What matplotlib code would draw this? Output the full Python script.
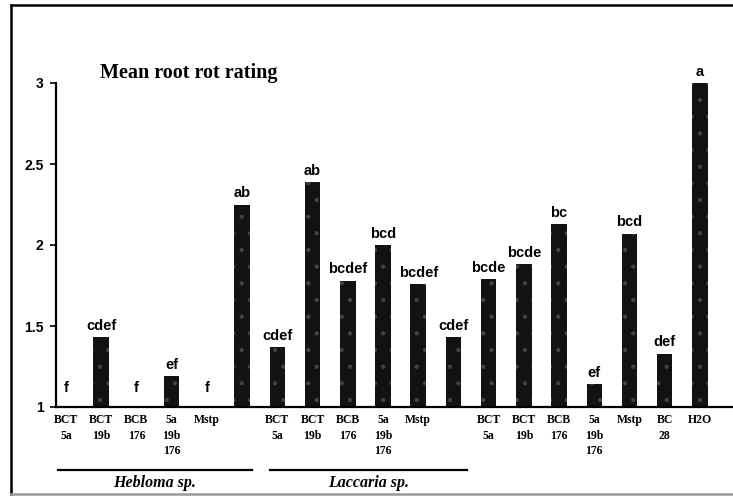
import matplotlib
matplotlib.use("Agg")
import matplotlib.pyplot as plt
from matplotlib.lines import Line2D

# mean root rot rating per treatment (baseline of the scale is 1)
treatments = ["BCT\n5a", "BCT\n19b", "BCB\n176", "5a\n19b\n176", "Mstp", "",
              "BCT\n5a", "BCT\n19b", "BCB\n176", "5a\n19b\n176", "Mstp", "",
              "BCT\n5a", "BCT\n19b", "BCB\n176", "5a\n19b\n176", "Mstp", "BC\n28", "H2O"]
ratings = [1.0, 1.43, 1.0, 1.19, 1.0, 2.25,
           1.37, 2.39, 1.78, 2.0, 1.76, 1.43,
           1.79, 1.88, 2.13, 1.14, 2.07, 1.33, 3.0]
letters = ["f", "cdef", "f", "ef", "f", "ab",
           "cdef", "ab", "bcdef", "bcd", "bcdef", "cdef",
           "bcde", "bcde", "bc", "ef", "bcd", "def", "a"]
yticks = [1, 1.5, 2, 2.5, 3]
ytick_labels = ["1", "1.5", "2", "2.5", "3"]
groups = ["Hebloma sp.", "Laccaria sp."]
group_spans = [(-0.23, 5.28), (5.79, 11.39)]

plt.rcParams["hatch.color"] = "#444444"
plt.rcParams["hatch.linewidth"] = 0.6

W, H = 733, 496
fig = plt.figure(figsize=(W / 100, H / 100), dpi=100)
fig.patch.set_facecolor("white")

ax = fig.add_axes([56 / W, 89 / H, (W - 56) / W, 324 / H])
base = 1.0
xs = list(range(len(ratings)))
ax.bar(xs, [r - base for r in ratings], bottom=base, width=0.44,
       facecolor="#121212", hatch=".", zorder=2)

ax.set_xlim(-0.284, -0.284 + (W - 56) / 35.22)
ax.set_ylim(1, 3)

for s in ("top", "right"):
    ax.spines[s].set_visible(False)
ax.spines["left"].set_linewidth(1.6)
ax.spines["bottom"].set_linewidth(1.6)

ax.set_yticks(yticks)
ax.set_yticklabels(ytick_labels, fontsize=10, fontweight="bold",
                   family="Liberation Sans")
ax.tick_params(axis="y", length=4, width=1.2, pad=5)

ax.set_xticks(xs)
ax.set_xticklabels(treatments, fontsize=8.5, fontweight="bold",
                   family="Liberation Serif", linespacing=1.4)
ax.tick_params(axis="x", length=0, pad=5)

# significance letters above bars
for x, r, lab in zip(xs, ratings, letters):
    off = 9 if r <= base else 3
    ax.annotate(lab, (x, r), xytext=(0, off), textcoords="offset points",
                ha="center", va="bottom", fontsize=10.5, fontweight="bold",
                family="Liberation Sans", annotation_clip=False)

ax.text(0.97, 3.06, "Mean root rot rating", fontsize=14.5, fontweight="bold",
        family="Liberation Serif", ha="left", va="center")

# fungus group underlines
for name, (x0, x1) in zip(groups, group_spans):
    ax.plot([x0, x1], [0.611, 0.611], color="black", lw=1.6, clip_on=False)
    ax.text((x0 + x1) / 2, 0.531, name, fontsize=11.5, style="italic",
            fontweight="bold", family="Liberation Serif",
            ha="center", va="center")

# outer frame
fig.add_artist(Line2D([11 / W, 1], [1 - 5 / H, 1 - 5 / H], color="black",
                      lw=1.8, transform=fig.transFigure))
fig.add_artist(Line2D([11 / W, 11 / W], [1 - 5 / H, 1 - 494 / H],
                      color="black", lw=1.8, transform=fig.transFigure))
fig.add_artist(Line2D([11 / W, 1], [1 - 494 / H, 1 - 494 / H],
                      color="#9a9a9a", lw=1.8, transform=fig.transFigure))

fig.savefig("out.png", dpi=100)
